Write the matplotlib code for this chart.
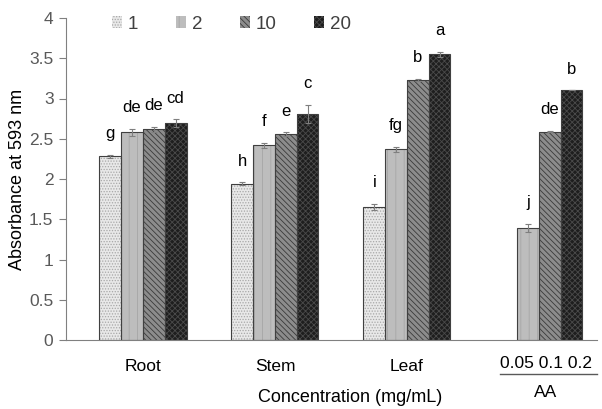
import numpy as np
import matplotlib
matplotlib.use("Agg")
import matplotlib.pyplot as plt
from matplotlib.patches import Patch
import matplotlib.transforms as mtransforms

plt.rcParams['font.family'] = ['Liberation Sans', 'DejaVu Sans']

# data
groups = ["Root", "Stem", "Leaf"]
series = ["1", "2", "10", "20"]
plant_vals = {
    "1":  [2.28, 1.94, 1.65],
    "2":  [2.58, 2.42, 2.37],
    "10": [2.62, 2.56, 3.23],
    "20": [2.69, 2.81, 3.55],
}
plant_err = {
    "1":  [0.02, 0.02, 0.04],
    "2":  [0.04, 0.03, 0.03],
    "10": [0.03, 0.02, 0.01],
    "20": [0.05, 0.11, 0.03],
}
plant_letters = {
    "1":  ["g", "h", "i"],
    "2":  ["de", "f", "fg"],
    "10": ["de", "e", "b"],
    "20": ["cd", "c", "a"],
}
aa_conc = ["0.05", "0.1", "0.2"]
aa_vals = [1.39, 2.59, 3.10]
aa_err = [0.05, 0.01, 0.0]
aa_letters = ["j", "de", "b"]

# bar styles: face colour, hatch, hatch colour
styles = {
    "1":  ("#e8e8e8", "......", "#a8a8a8"),
    "2":  ("#bdbdbd", "||", "#a6a6a6"),
    "10": ("#8c8c8c", "\\\\\\\\\\\\", "#3a3a3a"),
    "20": ("#1e1e1e", "xxxxxx", "#4a4a4a"),
}
edge = "#404040"

fig = plt.figure(figsize=(6.02, 4.09), dpi=100)
ax = fig.add_axes([66 / 602, 1 - 340 / 409, (597 - 66) / 602, 322 / 409])

w = 0.165
offsets = (np.arange(4) - 1.5) * w
x = np.arange(len(groups))


def draw_bars(xpos, vals, errs, letters, key):
    fc, hatch, hc = styles[key]
    ax.bar(xpos, vals, w, color=fc, hatch=hatch, edgecolor=hc, linewidth=0, zorder=2)
    ax.bar(xpos, vals, w, fill=False, edgecolor=edge, linewidth=0.8, zorder=3)
    ax.errorbar(xpos, vals, yerr=errs, fmt='none', ecolor='#7f7f7f',
                elinewidth=0.8, capsize=2, capthick=0.8, zorder=4)
    for xi, v, e, lab in zip(xpos, vals, errs, letters):
        ax.text(xi, v + e + 0.17, lab, ha='center', va='bottom', fontsize=12, color='black')


plt.rcParams['hatch.linewidth'] = 0.6
for i, s in enumerate(series):
    draw_bars(x + offsets[i], plant_vals[s], plant_err[s], plant_letters[s], s)

# AA control, uses the last three slots of the fourth group
aa_x = 3 + offsets[1:]
for j, s in enumerate(series[1:]):
    draw_bars([aa_x[j]], [aa_vals[j]], [aa_err[j]], [aa_letters[j]], s)

ax.set_ylim(0, 4)
ax.set_xlim(-0.583, 3.44)
ax.set_yticks(np.arange(0, 4.01, 0.5))
ax.set_yticklabels(["0", "0.5", "1", "1.5", "2", "2.5", "3", "3.5", "4"])
ax.set_xticks(x)
ax.set_xticklabels(groups)
ax.tick_params(axis='x', length=0, pad=14, labelsize=12.5, labelcolor='black')
ax.tick_params(axis='y', length=5, width=0.8, color='#808080', pad=4,
               labelsize=12.5, labelcolor='#595959')

for sp in ['top', 'right']:
    ax.spines[sp].set_visible(False)
ax.spines['left'].set_color('#808080')
ax.spines['bottom'].set_color('#808080')

ax.set_ylabel("Absorbance at 593 nm", fontsize=13, va='center')
ax.yaxis.set_label_coords(-0.091, 0.5)
ax.set_xlabel("Concentration (mg/mL)", fontsize=13, va='center')
ax.xaxis.set_label_coords(0.535, -0.18)

# AA sub-axis labels
trans = mtransforms.blended_transform_factory(ax.transData, ax.transAxes)
aa_mid = 3 + 0.5 * w
ax.text(aa_mid - 0.03, -0.072, " ".join(aa_conc), transform=trans, ha='center', va='center',
        fontsize=12.5, color='black')
ax.plot([aa_mid - 0.38, aa_mid + 0.36], [-0.107, -0.107], transform=trans,
        color='#595959', linewidth=1, clip_on=False)
ax.text(aa_mid - 0.03, -0.163, "AA", transform=trans, ha='center', va='center',
        fontsize=12.5, color='black')

handles = [Patch(facecolor=styles[s][0], hatch=styles[s][1], edgecolor=styles[s][2],
                 linewidth=0) for s in series]
leg = ax.legend(handles, series, loc='upper left', bbox_to_anchor=(0.055, 1.06), ncol=4,
                frameon=False, fontsize=13.5, handlelength=0.55, handleheight=0.55,
                handletextpad=0.3, columnspacing=2.0)
for t in leg.get_texts():
    t.set_color('#404040')

fig.savefig("out.png", dpi=100)
